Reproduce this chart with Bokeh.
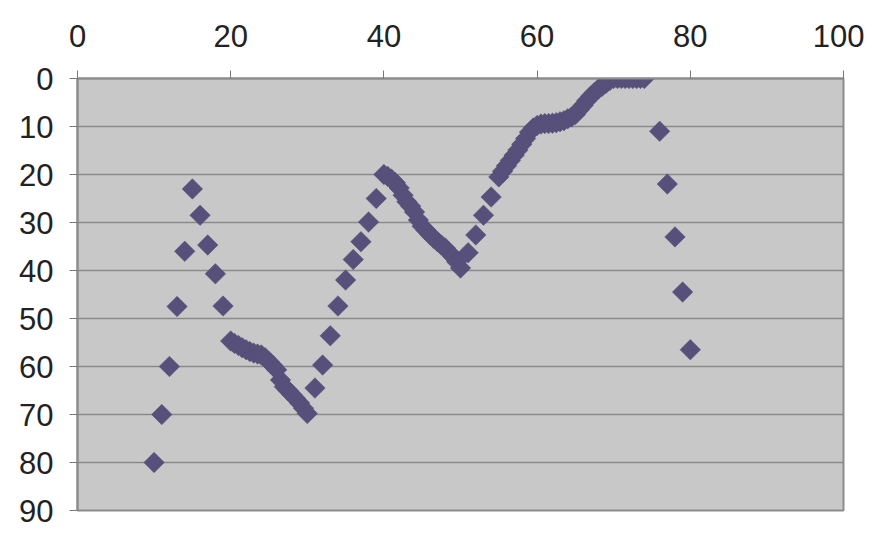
from bokeh.plotting import figure
from bokeh.models import Range1d, FixedTicker, LinearAxis
from bokeh.embed import file_html
from bokeh.resources import INLINE
import numpy as np

# x values
x_vals = [10, 11, 12, 13, 14, 15, 16, 17, 18, 19,
          20, 20.5, 21, 21.5, 22, 22.5, 23, 23.5, 24, 24.5, 25, 25.5, 26, 26.5,
          27, 27.5, 28, 28.5, 29, 29.5, 30,
          31, 32, 33, 34, 35, 36, 37, 38, 39,
          40, 40.5, 41, 41.5, 42, 42.5, 43, 43.5, 44, 44.5, 45, 45.5, 46, 46.5,
          47, 47.5, 48, 48.5, 49, 49.5, 50,
          51, 52, 53, 54,
          55, 55.5, 56, 56.5, 57, 57.5, 58, 58.5, 59, 59.5, 60, 60.5, 61, 61.5,
          62, 62.5, 63, 63.5, 64, 64.5, 65, 65.5, 66, 66.5, 67, 67.5, 68, 68.5,
          69, 69.5, 70, 70.5, 71, 71.5, 72, 72.5, 73, 73.5, 74,
          76, 77, 78, 79, 80]

# y values (axis runs downwards from 0 to 90)
y_vals = [80, 70, 60, 47.5, 36, 23, 28.5, 34.7, 40.7, 47.4,
          54.7, 55.2, 55.6, 56.1, 56.5, 56.9, 57.2, 57.4, 57.6, 58.2, 59.0, 59.8, 60.7, 62.8,
          64.2, 65.0, 65.9, 66.7, 67.6, 68.7, 69.8,
          64.5, 59.7, 53.6, 47.4, 42.0, 37.7, 34.0, 29.9, 25.0,
          20.0, 20.4, 21.0, 21.7, 22.8, 24.3, 25.7, 26.6, 27.8, 29.5, 30.8, 31.6, 32.5, 33.3,
          34.0, 34.7, 35.3, 36.2, 37.1, 38.2, 39.5,
          36.3, 32.6, 28.5, 24.7,
          20.5, 19.3, 18.2, 17.1, 16.0, 14.9, 13.7, 12.5, 11.2, 10.3, 9.8, 9.5, 9.4, 9.4,
          9.3, 9.2, 9.0, 8.8, 8.4, 8.0, 7.5, 6.5, 5.6, 4.6, 3.7, 2.9, 2.2, 1.6,
          1.0, 0.4, 0, 0, 0, 0, 0, 0, 0, 0, 0,
          11, 22, 33, 44.5, 56.5]

x_ticks = [0, 20, 40, 60, 80, 100]
y_ticks = [0, 10, 20, 30, 40, 50, 60, 70, 80, 90]

FONT = "Liberation Sans"
GRID = "#8A8A8A"
BORDER = "#8C8C8C"
MARK = "#56507A"

p = figure(width=864, height=534, output_backend="svg", toolbar_location=None,
           x_range=Range1d(0, 100), y_range=Range1d(90, 0),
           x_axis_location=None, y_axis_location=None,
           min_border_left=77, min_border_right=21,
           min_border_top=78, min_border_bottom=24)

p.background_fill_color = "#C8C8C8"
p.border_fill_color = "white"
p.outline_line_color = BORDER
p.outline_line_width = 2

xaxis = LinearAxis(ticker=FixedTicker(ticks=x_ticks))
yaxis = LinearAxis(ticker=FixedTicker(ticks=y_ticks))
for ax in (xaxis, yaxis):
    ax.axis_line_color = BORDER
    ax.axis_line_width = 2
    ax.major_tick_line_color = "#777777"
    ax.major_tick_out = 8
    ax.major_tick_in = 0
    ax.minor_tick_line_color = None
    ax.major_label_text_font = FONT
    ax.major_label_text_font_size = "31px"
    ax.major_label_text_color = "#222222"
xaxis.major_label_standoff = 24
yaxis.major_label_standoff = 16
p.add_layout(xaxis, "above")
p.add_layout(yaxis, "left")

p.xgrid.visible = False
p.ygrid.ticker = FixedTicker(ticks=y_ticks)
p.ygrid.grid_line_color = GRID
p.ygrid.grid_line_width = 1.5

p.scatter(x_vals, y_vals, marker="square", angle=np.pi / 4, size=14.5,
          fill_color=MARK, line_color=MARK, line_width=0.5)

open("out.html", "w").write(file_html(p, INLINE))
